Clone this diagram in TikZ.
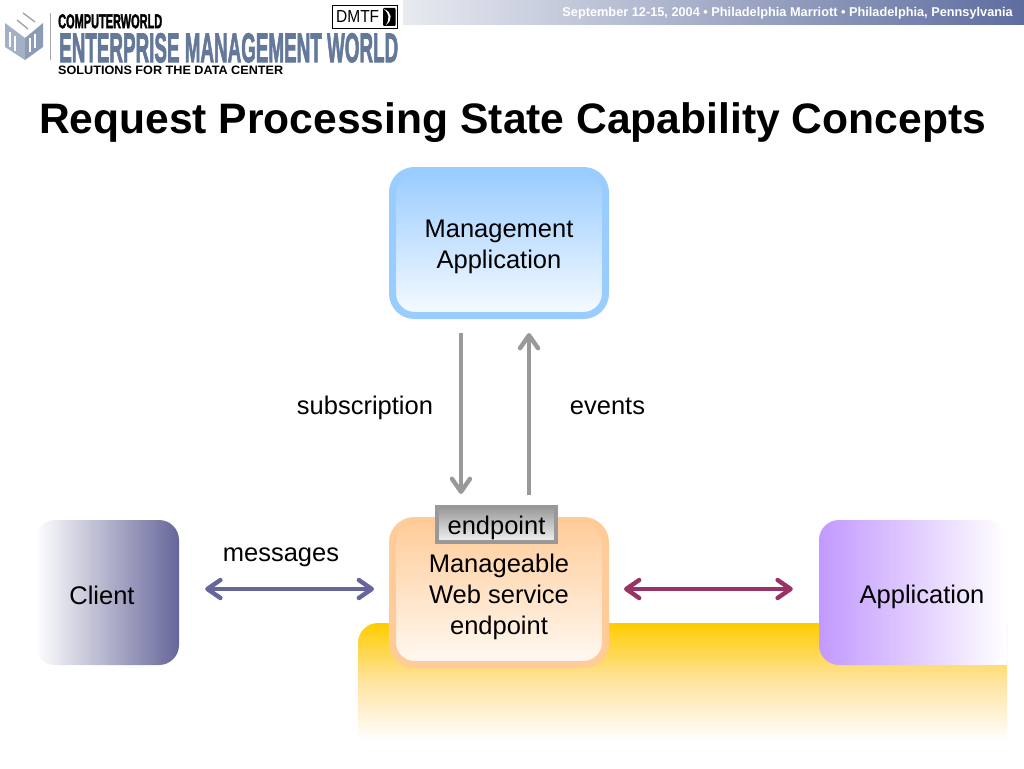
\documentclass[tikz,border=0pt]{standalone}
\usepackage{fontspec}
\usepackage{graphicx}
\setmainfont{Liberation Sans}
\newfontfamily\heavyfont[FakeBold=2.5]{Liberation Sans Bold}
\usetikzlibrary{arrows.meta,shadings}
\definecolor{mgblue}{HTML}{99CCFF}
\definecolor{mgorange}{HTML}{FFCC99}
\definecolor{cliblue}{HTML}{66669A}
\definecolor{appviolet}{HTML}{C299FF}
\definecolor{maroon}{HTML}{993366}
\definecolor{arrowgray}{HTML}{999999}
\definecolor{logoblue}{HTML}{64789A}
\definecolor{gold}{HTML}{FFCC00}
\definecolor{goldmid}{HTML}{FFE3A0}
\definecolor{bannerleft}{HTML}{E8EAF0}
\definecolor{bannerright}{HTML}{5E6D9F}
\definecolor{cubeleft}{HTML}{A3B0C6}
\definecolor{cuberight}{HTML}{8D9CB6}
\tikzset{
  x=1pt,y=-1pt,
  bodytext/.style={font=\fontsize{25.5}{31}\selectfont,text=black},
  plainlabel/.style={bodytext,inner sep=0pt,anchor=base},
  panel/.style={bodytext,align=center,draw=#1,line width=7pt,rounded corners=22pt,minimum width=213pt,inner sep=0pt},
  sidebox/.style={bodytext,rounded corners=20pt,minimum height=145pt,inner sep=0pt},
  barb/.style={line width=4.4pt,-{Straight Barb[length=13pt,width=18pt,round]}},
  dbarb/.style={line width=4.4pt,{Straight Barb[length=13pt,width=18pt,round]}-{Straight Barb[length=13pt,width=18pt,round]}},
  logotext/.style={inner sep=0pt,anchor=north west},
}
\begin{document}
\begin{tikzpicture}
\useasboundingbox[fill=white] (0,0) rectangle (1024,768);

% header banner
\shade[left color=bannerleft,right color=bannerright] (403,0) rectangle (1024,25);
\node[inner sep=0pt,anchor=east,text=white,font=\fontsize{12.75}{14}\bfseries\selectfont] (banner) at (1013,13) {September 12-15, 2004 • Philadelphia Marriott • Philadelphia, Pennsylvania};

% logo
\fill[cubeleft] (5,23) -- (25,38) -- (25,60) -- (5,47) -- cycle;
\fill[cuberight] (25,38) -- (43,23) -- (43,47) -- (25,60) -- cycle;
\draw[gray!75,line width=1.3pt] (23,13) -- (35,22) (17,20) -- (28,29);
\draw[white,line width=1.2pt] (10,32) -- (10,47) (15,36) -- (15,51) (30,38) -- (30,52) (35,34) -- (35,48);
\draw[gray!70,line width=.6pt] (50.5,13) -- (50.5,60);
\node[logotext] (cw) at (58,14) {\resizebox{104pt}{14pt}{\heavyfont COMPUTERWORLD}};
\node[logotext] (emw) at (59,33) {\resizebox{339pt}{29pt}{\heavyfont\color{logoblue}ENTERPRISE MANAGEMENT WORLD}};
\node[logotext] (sol) at (58,66) {\resizebox{225pt}{8.5pt}{\bfseries SOLUTIONS FOR THE DATA CENTER}};
\node[draw=black,line width=.7pt,fill=white,minimum width=65pt,minimum height=23pt,inner sep=0pt,anchor=north west] (dmtf) at (332,5.5) {};
\node[inner sep=0pt,anchor=west] (dmtflabel) at (336,17) {\resizebox{43pt}{12pt}{DMTF}};
\fill[black,rounded corners=1pt] (383,8) rectangle (395.5,26);
\fill[white] (384,9) .. controls (392,12) and (393,20) .. (386,25) .. controls (390,19) and (389,13) .. (384,9) -- cycle;

% title
\node[inner sep=0pt,anchor=base,font=\fontsize{42.6}{46}\bfseries\selectfont] (title) at (512.5,133) {Request Processing State Capability Concepts};

% backing band
\shade[top color=gold,bottom color=white,middle color=goldmid] (358,740) [rounded corners=20pt] -- (358,623) [sharp corners] -- (1007,623) -- (1007,740) -- cycle;
% square lower right corner of the Application box
\fill[white] (975,640) rectangle (1007,665);

% boxes
\node[panel=mgblue,top color=mgblue,bottom color=mgblue!8!white,minimum height=145pt] (mgmt) at (499,243) {\rule{0pt}{25.4pt}Management\\Application};
\node[panel=mgorange,top color=mgorange,bottom color=mgorange!12!white,minimum height=144pt] (mws) at (499,592.5) {\rule{0pt}{27.4pt}Manageable\\Web service\\endpoint};
\node[draw=arrowgray,line width=4pt,top color=arrowgray,bottom color=gray!10!white,minimum width=119pt,minimum height=35pt,inner sep=0pt,bodytext] (endpoint) at (496.5,524.5) {\rule{0pt}{24.4pt}endpoint};
\node[sidebox,left color=white,right color=cliblue,minimum width=144pt] (client) at (107,592.5) {\kern-10pt\rule{0pt}{23.4pt}Client};
\node[sidebox,left color=appviolet,right color=white,minimum width=188pt] (app) at (913,592.5) {\kern18pt\rule{0pt}{26.4pt}Application};

% connectors
\draw[barb,arrowgray] ([xshift=-38pt,yshift=-14pt]mgmt.south) -- ([xshift=-35.5pt,yshift=11pt]endpoint.north);
\draw[barb,arrowgray] ([xshift=32.5pt,yshift=10pt]endpoint.north) -- ([xshift=30pt,yshift=-14pt]mgmt.south);
\draw[dbarb,cliblue] ([xshift=26pt,yshift=3.5pt]client.east) -- ([xshift=-15pt,yshift=3.5pt]mws.west);
\draw[dbarb,maroon] ([xshift=15pt,yshift=3.5pt]mws.east) -- ([xshift=-26pt,yshift=3.5pt]app.west);

% labels
\node[plainlabel] (subscription) at (365,414) {subscription};
\node[plainlabel] (events) at (607.5,414) {events};
\node[plainlabel] (messages) at (281,561) {messages};
\end{tikzpicture}
\end{document}
